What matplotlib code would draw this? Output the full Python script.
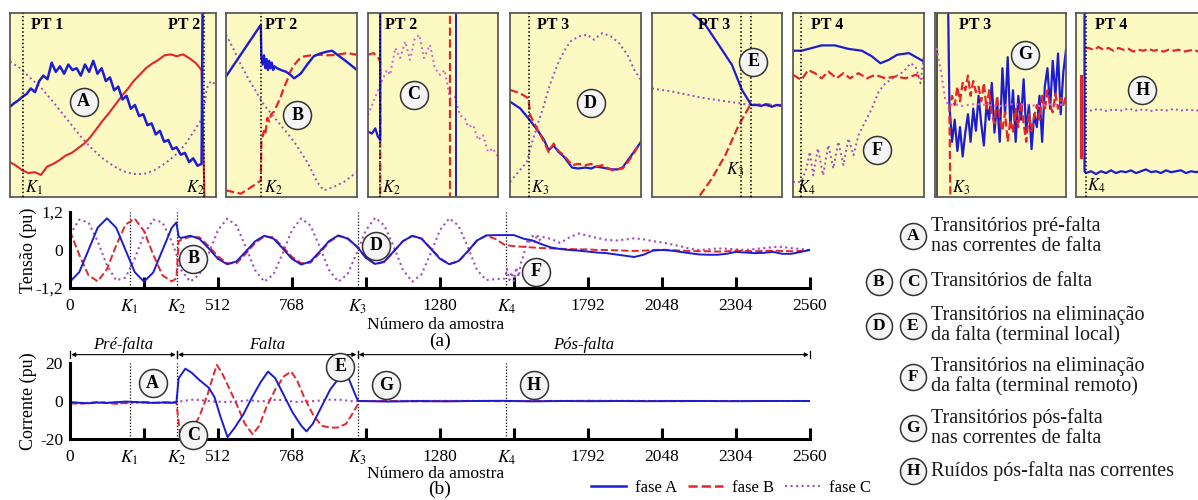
import numpy as np
import matplotlib
matplotlib.use('Agg')
import matplotlib.pyplot as plt
import matplotlib.transforms as mtransforms
from matplotlib.lines import Line2D

plt.rcParams['font.family'] = ['Liberation Serif', 'DejaVu Serif']
plt.rcParams['mathtext.fontset'] = 'stix'

W, H = 1198, 500
AZUL = '#1c1cd2'
VERMELHO = '#e4262c'
ROXO = '#a04cc4'
ROSA = '#d860d8'
AMARELO = '#fcf9c2'

#%% Dados: amostras de referencia
K = [206, 370, 995, 1510]

# (a) tensao
amostra_a = list(range(0, 353, 32)) + [368, 376] + list(range(384, 2561, 32))
tensao_A = [-1.0, -0.70, 0.0, 0.71, 1.0, 0.70, 0.0, -0.70, -1.0, -0.71, 0.0, 0.70,
            0.87, 0.42,
            0.38, 0.45, 0.35, 0.05, -0.28, -0.45, -0.36, -0.05, 0.27, 0.45,
            0.36, 0.05, -0.28, -0.46, -0.36, -0.05, 0.28, 0.46, 0.36, 0.12,
            -0.25, -0.44, -0.36, -0.04, 0.28, 0.45, 0.36, 0.04, -0.28, -0.45,
            -0.35, -0.04, 0.30, 0.46, 0.47, 0.47,
            0.47, 0.36, 0.30, 0.18, 0.08, 0.03, 0.0, -0.02, -0.05, -0.08,
            -0.10, -0.14, -0.18, -0.22, -0.15, -0.02, 0.0, -0.02, -0.06, -0.10,
            -0.14, -0.15, -0.15, -0.12, -0.06, -0.08, -0.10, -0.09, -0.06, -0.12,
            -0.12, -0.06, 0.0]
tensao_B = [0.60, -0.15, -0.80, -0.99, -0.60, 0.15, 0.80, 0.99, 0.60, -0.15, -0.80, -0.99,
            -0.90, 0.28,
            0.32, 0.42, 0.40, 0.12, -0.20, -0.42, -0.42, -0.12, 0.22, 0.43,
            0.40, 0.10, -0.22, -0.42, -0.40, -0.10, 0.25, 0.44, 0.38, 0.10,
            -0.25, -0.45, -0.38, -0.05, 0.28, 0.44, 0.36, 0.06, -0.26, -0.44,
            -0.36, -0.06, 0.30, 0.45, 0.35, 0.16,
            0.12, 0.10, 0.08, 0.06, 0.05, 0.04, 0.03, 0.02, 0.02, 0.0,
            0.0, -0.01, -0.02, -0.03, -0.02, 0.0, 0.01, 0.0, -0.02, -0.03,
            -0.04, -0.04, -0.05, -0.04, -0.02, -0.03, -0.04, -0.03, -0.02, -0.03,
            -0.04, -0.03, 0.0]
amostra_c = (list(range(0, 353, 32)) + [368, 376] + list(range(384, 1505, 32))
             + list(range(1512, 1625, 8)) + list(range(1632, 2561, 32)))
tensao_C = [0.49, 0.96, 0.87, 0.27, -0.49, -0.96, -0.87, -0.27, 0.49, 0.96, 0.87, 0.27,
            -0.12, -0.45,
            -0.63, -1.0, -0.77, -0.10, 0.63, 0.99, 0.77, 0.10,
            -0.63, -1.0, -0.77, -0.10, 0.63, 1.0, 0.77, 0.10,
            -0.63, -1.0, -0.77, -0.10, 0.63, 1.02, 0.77, 0.10,
            -0.63, -1.0, -0.77, -0.10, 0.63, 1.0, 0.77, 0.10,
            -0.63, -0.95, -0.92, -0.90,
            -0.60, -0.95, -0.70, -0.98, -0.55, -0.85, -0.40, -0.20, 0.10, 0.35,
            0.20, 0.45, 0.25, 0.50, 0.30,
            0.42, 0.35, 0.22, 0.40, 0.52, 0.45, 0.38, 0.32, 0.30, 0.33,
            0.37, 0.34, 0.28, 0.24, 0.18, 0.12, 0.04, 0.0, 0.02, 0.05,
            0.04, 0.02, 0.0, 0.03, 0.06, 0.09, 0.10, 0.06, 0.03, 0.0]

# (b) corrente
pos_falta = list(range(1100, 2501, 100)) + [2560]
amostra_iA = list(range(0, 353, 32)) + [368, 376, 399, 420, 448, 480, 500, 520, 545, 570, 600,
                                         630, 660, 685, 710, 740, 770, 800, 818, 840, 870,
                                         900, 925, 950, 965, 985, 995, 1000] + pos_falta
corrente_A = [-0.5, -1.0, -1.2, -0.8, -1.0, -0.6, -0.3, -0.5, -0.8, -1.0, -0.8, -1.0, -0.8,
              12, 17, 15, 11, 7, 2, -8, -19, -14, -7,
              2, 10, 15.5, 12, 3, -6, -13, -16, -12, -3,
              6, 11, 12, 11.5, 4, 0.5, 0,
              -0.3, 0, -0.2, 0, 0.1, -0.2, 0, -0.1, 0, -0.1, 0, 0, -0.1, 0, 0, 0]
amostra_iB = list(range(0, 353, 32)) + [368, 380, 399, 420, 448, 475, 495, 508, 525, 550, 580,
                                         605, 632, 655, 680, 710, 740, 765, 785, 810, 840,
                                         870, 900, 925, 955, 980, 995, 1005] + pos_falta
corrente_B = [-1.2, -1.5, -1.0, -0.5, -1.0, -1.5, -1.0, -0.6, -0.5, -1.0, -0.7, -0.6, -0.5,
              -17, -20, -16, -8, 3, 13, 19, 15, 7, -3,
              -12, -17.5, -13, -3, 6, 13, 15.5, 11, 2, -7,
              -13, -14, -14, -12, -6, -2, 0,
              0, -0.2, 0, 0, -0.1, 0, 0, 0.1, 0, 0, -0.1, 0, 0, 0, 0, 0]
amostra_iC = [0, 64, 128, 192, 256, 320, 370, 400, 430, 460, 500, 540, 580, 620, 660, 700,
              740, 780, 820, 860, 900, 940, 980, 1000, 1300, 1600, 1900, 2200, 2560]
corrente_C = [-0.8, -1.0, -0.8, -1.2, -0.8, -1.0, -0.5, 0.2, 0.8, 0.3, -0.3, -0.5, -0.2, 0.4,
              -0.3, 0.6, 0.5, -0.5, -0.3, 0.2, 0.7, 0.6, -0.2, 0, 0.1, 0, 0.1, 0, 0]

# paineis de detalhe (coordenadas normalizadas de cada painel)
p1_azul = [0.49, 0.51, 0.525, 0.545, 0.56, 0.59, 0.57, 0.63, 0.66, 0.64, 0.73, 0.68, 0.71, 0.67,
           0.72, 0.69, 0.70, 0.66, 0.72, 0.68, 0.74, 0.67, 0.70, 0.63, 0.65, 0.58, 0.60, 0.53,
           0.55, 0.48, 0.50, 0.44, 0.45, 0.39, 0.40, 0.34, 0.36, 0.30, 0.31, 0.26, 0.27, 0.23,
           0.24, 0.19, 0.21, 0.17, 0.18]
p1_vermelho = [0.19, 0.17, 0.145, 0.13, 0.135, 0.12, 0.165, 0.18, 0.20, 0.225, 0.24, 0.265,
               0.29, 0.325, 0.37, 0.415, 0.455, 0.50, 0.545, 0.585, 0.63, 0.665, 0.70, 0.725,
               0.745, 0.77, 0.775, 0.765, 0.775, 0.755, 0.73, 0.69]
p1_roxo_x = [0, 0.05, 0.10, 0.15, 0.20, 0.25, 0.30, 0.35, 0.40, 0.45, 0.50, 0.55, 0.60, 0.65,
             0.70, 0.75, 0.80, 0.85, 0.90, 0.935, 0.955, 0.975, 1.0]
p1_roxo = [0.736, 0.70, 0.645, 0.595, 0.53, 0.46, 0.39, 0.32, 0.26, 0.21, 0.17, 0.14, 0.125,
           0.125, 0.145, 0.18, 0.225, 0.285, 0.37, 0.43, 0.59, 0.63, 0.61]

p2_azul_x = [0, 0.266, 0.27, 0.28, 0.29, 0.30, 0.31, 0.32, 0.33, 0.34, 0.35, 0.36, 0.37, 0.39,
             0.42, 0.46, 0.49, 0.52, 0.57, 0.62, 0.67, 0.72, 0.77, 0.81, 0.85, 0.92, 1.0]
p2_azul = [0.655, 0.936, 0.76, 0.72, 0.77, 0.70, 0.75, 0.69, 0.74, 0.70, 0.73, 0.69, 0.71, 0.70,
           0.69, 0.68, 0.665, 0.645, 0.67, 0.72, 0.765, 0.78, 0.79, 0.795, 0.773, 0.736, 0.69]
p2_vermelho_x = [0, 0.114, 0.215, 0.266, 0.27, 0.28, 0.29, 0.30, 0.316, 0.33, 0.345, 0.367,
                 0.39, 0.418, 0.44, 0.468, 0.49, 0.52, 0.56, 0.595, 0.65, 0.72, 0.78, 0.848,
                 0.924, 1.0]
p2_vermelho = [0.036, 0.018, 0.064, 0.09, 0.30, 0.33, 0.36, 0.34, 0.43, 0.41, 0.45, 0.464, 0.50,
               0.545, 0.59, 0.636, 0.68, 0.718, 0.75, 0.764, 0.77, 0.773, 0.77, 0.773, 0.782,
               0.773]
p2_roxo_x = [0, 0.06, 0.114, 0.165, 0.215, 0.29, 0.35, 0.418, 0.52, 0.62, 0.696, 0.747, 0.823,
             0.9, 1.0]
p2_roxo = [0.882, 0.80, 0.718, 0.65, 0.59, 0.50, 0.45, 0.39, 0.30, 0.19, 0.082, 0.036, 0.055,
           0.082, 0.136]

p3_azul_x = [0, 0.03, 0.056, 0.075, 0.094, 0.094]
p3_azul = [0.355, 0.345, 0.373, 0.33, 0.31, 1.05]
p3_vermelho_x = [0, 0.043, 0.08, 0.094, 0.094]
p3_vermelho = [0.773, 0.782, 0.755, 0.736, -0.05]
p3_roxo_x = [0, 0.094, 0.145, 0.17, 0.21, 0.247, 0.286, 0.324, 0.357, 0.395, 0.43, 0.477, 0.515,
             0.553, 0.59, 0.63, 0.668, 0.707, 0.745, 0.77, 0.81, 0.847, 0.885, 0.923, 0.96, 1.0]
p3_roxo = [0.445, 0.61, 0.69, 0.664, 0.81, 0.755, 0.845, 0.745, 0.855, 0.882, 0.755, 0.827,
           0.70, 0.664, 0.69, 0.536, 0.545, 0.445, 0.427, 0.382, 0.39, 0.31, 0.336, 0.245,
           0.264, 0.218]

p4_vermelho_x = [0, 0.077, 0.141, 0.154, 0.218, 0.26, 0.295, 0.333, 0.37, 0.41, 0.474, 0.52,
                 0.577, 0.62, 0.654, 0.705, 0.74, 0.782, 0.82, 0.859, 0.9, 0.936, 1.0]
p4_vermelho = [0.582, 0.564, 0.536, 0.445, 0.355, 0.30, 0.245, 0.29, 0.25, 0.227, 0.173, 0.18,
               0.173, 0.18, 0.164, 0.173, 0.16, 0.145, 0.15, 0.155, 0.19, 0.227, 0.30]
p4_azul_x = [0, 0.077, 0.141, 0.218, 0.26, 0.295, 0.333, 0.37, 0.41, 0.474, 0.52, 0.577, 0.62,
             0.654, 0.705, 0.74, 0.782, 0.82, 0.859, 0.9, 0.936, 1.0]
p4_azul = [0.518, 0.482, 0.427, 0.355, 0.31, 0.255, 0.28, 0.245, 0.22, 0.16, 0.155, 0.16, 0.155,
           0.165, 0.16, 0.155, 0.15, 0.15, 0.16, 0.2, 0.235, 0.30]
p4_roxo_x = [0, 0.064, 0.128, 0.17, 0.218, 0.26, 0.295, 0.33, 0.372, 0.42, 0.46, 0.526, 0.59,
             0.64, 0.705, 0.77, 0.833, 0.897, 0.95, 1.0]
p4_roxo = [0.082, 0.136, 0.19, 0.30, 0.409, 0.50, 0.59, 0.66, 0.736, 0.80, 0.845, 0.873, 0.882,
           0.855, 0.891, 0.873, 0.836, 0.773, 0.69, 0.636]

p5_azul_x = [0.29, 0.32, 0.41, 0.513, 0.615, 0.692, 0.764, 0.80, 0.84, 0.88, 0.92, 0.96, 1.0]
p5_azul = [1.05, 0.99, 0.936, 0.827, 0.718, 0.582, 0.50, 0.50, 0.495, 0.505, 0.49, 0.50, 0.495]
p5_roxo_x = [0, 0.154, 0.41, 0.667, 0.756, 0.80, 0.85, 0.9, 0.95, 1.0]
p5_roxo = [0.59, 0.573, 0.536, 0.51, 0.50, 0.505, 0.495, 0.505, 0.495, 0.50]
p5_vermelho_x = [0.33, 0.36, 0.46, 0.564, 0.667, 0.756, 0.8, 0.85, 0.9, 0.95, 1.0]
p5_vermelho = [-0.05, 0.0, 0.1, 0.227, 0.39, 0.50, 0.50, 0.505, 0.495, 0.50, 0.50]

p6_azul_x = [0, 0.064, 0.141, 0.218, 0.32, 0.423, 0.526, 0.603, 0.667, 0.73, 0.795, 0.885, 1.0]
p6_azul = [0.795, 0.795, 0.809, 0.824, 0.824, 0.805, 0.795, 0.764, 0.727, 0.745, 0.773, 0.782,
           0.736]
p6_vermelho_x = [0, 0.064, 0.115, 0.167, 0.218, 0.27, 0.333, 0.385, 0.436, 0.5, 0.564, 0.628,
                 0.705, 0.782, 0.859, 0.936, 1.0]
p6_vermelho = [0.664, 0.636, 0.69, 0.673, 0.645, 0.682, 0.645, 0.673, 0.645, 0.673, 0.645, 0.664,
               0.645, 0.655, 0.645, 0.664, 0.645]
p6_roxo_x = [0, 0.064, 0.103, 0.128, 0.154, 0.19, 0.23, 0.27, 0.308, 0.346, 0.385, 0.423, 0.462,
             0.5, 0.551, 0.603, 0.654, 0.705, 0.782, 0.846, 0.897, 0.936, 0.974, 1.0]
p6_roxo = [0.082, 0.082, 0.155, 0.245, 0.118, 0.264, 0.118, 0.282, 0.155, 0.30, 0.173, 0.318,
           0.227, 0.336, 0.409, 0.482, 0.573, 0.618, 0.655, 0.682, 0.727, 0.709, 0.618, 0.782]

p7_azul = [0.50, 0.30, 0.42, 0.25, 0.38, 0.22, 0.35, 0.45, 0.30, 0.48, 0.36, 0.55, 0.40, 0.28,
           0.50, 0.42, 0.62, 0.35, 0.52, 0.30, 0.70, 0.45, 0.76, 0.38, 0.58, 0.30, 0.55, 0.42,
           0.64, 0.35, 0.50, 0.26, 0.45, 0.38, 0.55, 0.30, 0.60, 0.70, 0.48, 0.74, 0.55, 0.78,
           0.45, 0.68, 0.80]
p7_vermelho = [0.48, 0.55, 0.50, 0.60, 0.52, 0.62, 0.58, 0.66, 0.55, 0.63, 0.57, 0.60, 0.52,
               0.62, 0.48, 0.58, 0.45, 0.40, 0.55, 0.42, 0.36, 0.46, 0.30, 0.42, 0.35, 0.48,
               0.38, 0.52, 0.40, 0.30, 0.45, 0.36, 0.44, 0.50, 0.42, 0.55, 0.47, 0.58, 0.50,
               0.46, 0.56, 0.48, 0.54, 0.50, 0.55]
p7_roxo_x = [0.013, 0.05, 0.077, 0.1, 0.15, 0.2, 0.3, 0.4, 0.5, 0.6, 0.7, 0.8, 0.9, 1.0]
p7_roxo = [0.81, 0.664, 0.536, 0.50, 0.505, 0.495, 0.505, 0.5, 0.495, 0.505, 0.50, 0.495, 0.505,
           0.5]

p8_azul_x = [0.068, 0.068, 0.08, 0.12, 0.16, 0.2, 0.24, 0.28, 0.32, 0.36, 0.4, 0.44, 0.48, 0.52,
             0.56, 0.6, 0.64, 0.68, 0.72, 0.76, 0.8, 0.84, 0.88, 0.92, 0.96, 1.0]
p8_azul = [1.05, 0.14, 0.13, 0.14, 0.125, 0.14, 0.13, 0.145, 0.13, 0.14, 0.135, 0.145, 0.13,
           0.14, 0.15, 0.135, 0.14, 0.13, 0.145, 0.135, 0.14, 0.145, 0.13, 0.14, 0.135, 0.14]
p8_vermelho_x = [0.07, 0.1, 0.14, 0.18, 0.22, 0.26, 0.3, 0.34, 0.38, 0.42, 0.46, 0.5, 0.54, 0.58,
                 0.62, 0.66, 0.7, 0.74, 0.78, 0.82, 0.86, 0.9, 0.94, 0.98, 1.0]
p8_vermelho = [0.81, 0.81, 0.80, 0.815, 0.80, 0.81, 0.795, 0.81, 0.80, 0.805, 0.79, 0.80, 0.795,
               0.805, 0.795, 0.80, 0.79, 0.80, 0.795, 0.80, 0.79, 0.795, 0.80, 0.79, 0.795]
p8_roxo_x = [0.07, 0.12, 0.18, 0.24, 0.3, 0.36, 0.42, 0.48, 0.54, 0.6, 0.66, 0.72, 0.78, 0.84,
             0.9, 0.96, 1.0]
p8_roxo = [0.473, 0.47, 0.478, 0.468, 0.475, 0.47, 0.48, 0.47, 0.476, 0.468, 0.475, 0.47, 0.478,
           0.47, 0.474, 0.47, 0.472]

legenda_letras = [['A'], ['B', 'C'], ['D', 'E'], ['F'], ['G'], ['H']]
legenda_textos = ['Transitórios pré-falta\nnas correntes de falta',
                  'Transitórios de falta',
                  'Transitórios na eliminação\nda falta (terminal local)',
                  'Transitórios na eliminação\nda falta (terminal remoto)',
                  'Transitórios pós-falta\nnas correntes de falta',
                  'Ruídos pós-falta nas correntes']


#%% Funcoes auxiliares
def caixa(x0, y0, x1, y1):
    return [x0 / W, 1 - y1 / H, (x1 - x0) / W, (y1 - y0) / H]


def circulo(ax, x, y, letra, diam=28, fs=13, **kw):
    ax.plot([x], [y], marker='o', ms=diam * 0.72, mfc='#f4f4f4', mec='#333333', mew=1.1,
            ls='none', clip_on=False, zorder=8, **kw)
    ax.text(x, y, letra, ha='center', va='center', fontsize=fs, fontweight='bold',
            zorder=9, **kw)


def painel(x0, x1):
    ax = fig.add_axes(caixa(x0, 13, x1, 197))
    ax.set_facecolor(AMARELO)
    ax.set_xlim(0, 1)
    ax.set_ylim(0, 1)
    ax.set_xticks([])
    ax.set_yticks([])
    for s in ax.spines.values():
        s.set_color('#5a5a5a')
        s.set_linewidth(1.3)
    return ax


def rotulo_pt(ax, x, texto, ha='left'):
    ax.text(x, 0.935, texto, fontsize=11.5, fontweight='bold', ha=ha, va='center', zorder=7)


def rotulo_k(ax, x, y, k):
    ax.text(x, y, '$K_%d$' % k, fontsize=12, ha='left', va='bottom', zorder=7)


def linha_k(ax, x):
    ax.axvline(x, color='k', ls=(0, (1, 1.5)), lw=1.1, zorder=3)


def eixo_sinal(y0, y1, lim, rotulos_y):
    ax = fig.add_axes(caixa(70, y0, 810, y1))
    ax.patch.set_alpha(0)
    ax.set_xlim(0, 2560)
    ax.set_ylim(-lim, lim)
    ax.spines[['top', 'right']].set_visible(False)
    ax.spines['left'].set_linewidth(2.2)
    ax.spines['bottom'].set_linewidth(2.2)
    ax.set_xticks(range(256, 2561, 256))
    ax.set_xticklabels(['', '512', '768', '', '1280', '', '1792', '2048', '2304', '2560'])
    ax.set_xticks([0] + K, minor=True)
    ax.set_xticklabels(['0', '$K_1$', '$K_2$', '$K_3$', '$K_4$'], minor=True)
    ax.tick_params(axis='x', which='major', direction='in', length=8, width=2.2, pad=7,
                   labelsize=12.5)
    ax.tick_params(axis='x', which='minor', length=0, pad=7, labelsize=12.5)
    ax.set_yticks([-lim, 0, lim])
    ax.set_yticklabels(rotulos_y)
    ax.set_yticks([lim], minor=True)
    ax.tick_params(axis='y', which='major', length=0, pad=5, labelsize=12.5)
    ax.tick_params(axis='y', which='minor', direction='in', length=7, width=2.2)
    for k in K:
        ax.axvline(k, color='k', ls=(0, (1, 1.5)), lw=0.9, zorder=1)
    return ax


#%% Figura
fig = plt.figure(figsize=(W / 100, H / 100), dpi=100)

# painel 1
ax = painel(10, 216)
linha_k(ax, 0.065)
linha_k(ax, 0.94)
ax.plot(p1_roxo_x, p1_roxo, color=ROXO, ls=':', lw=1.4)
ax.plot(np.r_[np.linspace(0, 0.93, 32), 0.945], np.r_[p1_vermelho, -0.05], color=VERMELHO, lw=1.5)
ax.plot(np.r_[np.linspace(0, 0.93, 47), 0.935], np.r_[p1_azul, 1.05], color=AZUL, lw=1.8)
rotulo_pt(ax, 0.10, 'PT 1')
rotulo_pt(ax, 0.925, 'PT 2', ha='right')
rotulo_k(ax, 0.075, 0.0, 1)
rotulo_k(ax, 0.855, 0.0, 2)
circulo(ax, 0.358, 0.518, 'A')

# painel 2
ax = painel(226, 357)
linha_k(ax, 0.27)
ax.plot(p2_roxo_x, p2_roxo, color=ROXO, ls=':', lw=1.4)
ax.plot(p2_vermelho_x, p2_vermelho, color=VERMELHO, ls='--', lw=1.6)
ax.plot(p2_azul_x, p2_azul, color=AZUL, lw=1.7)
rotulo_pt(ax, 0.30, 'PT 2')
rotulo_k(ax, 0.29, 0.0, 2)
circulo(ax, 0.544, 0.445, 'B')

# painel 3
ax = painel(368, 498)
linha_k(ax, 0.094)
ax.plot(p3_roxo_x, p3_roxo, color=ROSA, ls=':', lw=1.4)
ax.plot(p3_vermelho_x, p3_vermelho, color=VERMELHO, ls='--', lw=1.6)
ax.plot(p3_azul_x, p3_azul, color=AZUL, lw=1.6)
ax.plot([0.63, 0.63], [1.05, -0.05], color=VERMELHO, ls='--', lw=1.6)
ax.plot([0.68, 0.68], [1.05, -0.05], color=AZUL, lw=1.4)
rotulo_pt(ax, 0.13, 'PT 2')
rotulo_k(ax, 0.11, 0.0, 2)
circulo(ax, 0.35, 0.555, 'C')

# painel 4
ax = painel(510, 641)
linha_k(ax, 0.146)
ax.plot(p4_roxo_x, p4_roxo, color=ROXO, ls=':', lw=1.4)
ax.plot(p4_azul_x, p4_azul, color=AZUL, lw=1.6)
ax.plot(p4_vermelho_x, p4_vermelho, color=VERMELHO, ls='--', lw=1.6)
rotulo_pt(ax, 0.205, 'PT 3')
rotulo_k(ax, 0.16, 0.0, 3)
circulo(ax, 0.615, 0.51, 'D')

# painel 5
ax = painel(652, 782)
linha_k(ax, 0.687)
linha_k(ax, 0.764)
ax.plot(p5_roxo_x, p5_roxo, color=ROXO, ls=':', lw=1.4)
ax.plot(p5_vermelho_x, p5_vermelho, color=VERMELHO, ls='--', lw=1.6)
ax.plot(p5_azul_x, p5_azul, color=AZUL, lw=1.6)
rotulo_pt(ax, 0.35, 'PT 3')
rotulo_k(ax, 0.57, 0.1, 3)
circulo(ax, 0.78, 0.736, 'E')

# painel 6
ax = painel(793, 924)
linha_k(ax, 0.064)
ax.plot(p6_roxo_x, p6_roxo, color=ROXO, ls=':', lw=1.4)
ax.plot(p6_vermelho_x, p6_vermelho, color=VERMELHO, ls='--', lw=1.6)
ax.plot(p6_azul_x, p6_azul, color=AZUL, lw=1.6)
rotulo_pt(ax, 0.14, 'PT 4')
rotulo_k(ax, 0.03, 0.0, 4)
circulo(ax, 0.641, 0.255, 'F')

# painel 7
ax = painel(935, 1066)
ax.axvline(0.013, color='#333333', lw=1.2)
grade7 = np.linspace(0.11, 1.0, 45)
ax.plot(p7_roxo_x, p7_roxo, color=ROSA, ls=':', lw=1.5, zorder=4)
ax.plot(np.r_[0.1, grade7], np.r_[1.05, p7_azul], color=AZUL, lw=1.6)
ax.plot(np.r_[0.118, grade7], np.r_[-0.05, p7_vermelho], color=VERMELHO, ls='--', lw=1.6)
rotulo_pt(ax, 0.18, 'PT 3')
rotulo_k(ax, 0.13, 0.0, 3)
circulo(ax, 0.69, 0.773, 'G')

# painel 8
ax = painel(1076, 1201)
linha_k(ax, 0.078)
ax.plot([0.04, 0.04], [0.22, 0.66], color=VERMELHO, lw=2.2)
ax.plot(p8_roxo_x, p8_roxo, color=ROXO, ls=':', lw=1.4)
ax.plot(p8_vermelho_x, p8_vermelho, color=VERMELHO, ls='--', lw=1.6)
ax.plot(p8_azul_x, p8_azul, color=AZUL, lw=1.6)
rotulo_pt(ax, 0.15, 'PT 4')
rotulo_k(ax, 0.09, 0.01, 4)
circulo(ax, 0.53, 0.58, 'H')

# (a) tensao
ax_a = eixo_sinal(212, 288, 1.2, ['-1,2', '0', '1,2'])
ax_a.plot(amostra_c, tensao_C, color=ROXO, ls=':', lw=1.5)
ax_a.plot(amostra_a, tensao_B, color=VERMELHO, ls='--', lw=1.4)
ax_a.plot(amostra_a, tensao_A, color=AZUL, lw=1.4)
circulo(ax_a, 426, -0.28, 'B')
circulo(ax_a, 1058, 0.14, 'D')
circulo(ax_a, 1611, -0.68, 'F')

# (b) corrente
ax_b = eixo_sinal(363, 439, 20, ['-20', '0', '20'])
ax_b.plot(amostra_iC, corrente_C, color=ROXO, ls=':', lw=1.5)
ax_b.plot(amostra_iB, corrente_B, color=VERMELHO, ls='--', lw=1.4)
ax_b.plot(amostra_iA, corrente_A, color=AZUL, lw=1.4)
circulo(ax_b, 286, 9.3, 'A')
circulo(ax_b, 426, -17.9, 'C')
circulo(ax_b, 935, 18.0, 'E')
circulo(ax_b, 1092, 8.4, 'G')
circulo(ax_b, 1604, 8.4, 'H')

trans = mtransforms.blended_transform_factory(ax_b.transData, ax_b.transAxes)
periodos = [(0, K[1], 'Pré-falta'), (K[1], K[2], 'Falta'), (K[2], 2560, 'Pós-falta')]
for ini, fim, nome in periodos:
    ax_b.annotate('', xy=(ini + 4, 1.11), xytext=(fim - 4, 1.11), xycoords=trans,
                  textcoords=trans,
                  arrowprops=dict(arrowstyle='<|-|>', color='k', lw=0.8, mutation_scale=6,
                                  shrinkA=0, shrinkB=0))
    ax_b.plot([ini, ini], [1.06, 1.16], transform=trans, color='k', lw=0.9, clip_on=False)
    ax_b.plot([fim, fim], [1.06, 1.16], transform=trans, color='k', lw=0.9, clip_on=False)
    ax_b.text((ini + fim) / 2, 1.24, nome, transform=trans, ha='center', va='center',
              style='italic', fontsize=12)

# rotulos dos eixos
fig.text(28 / W, 1 - 250 / H, 'Tensão (pu)', rotation=90, ha='center', va='center', fontsize=13)
fig.text(28 / W, 1 - 401 / H, 'Corrente (pu)', rotation=90, ha='center', va='center', fontsize=13)
fig.text(436 / W, 1 - 325 / H, 'Número da amostra', ha='center', va='center', fontsize=12.5)
fig.text(440 / W, 1 - 341 / H, '(a)', ha='center', va='center', fontsize=14)
fig.text(436 / W, 1 - 474 / H, 'Número da amostra', ha='center', va='center', fontsize=12.5)
fig.text(440 / W, 1 - 489 / H, '(b)', ha='center', va='center', fontsize=14)

# legenda das fases
alcas = [Line2D([], [], color=AZUL, lw=1.8),
         Line2D([], [], color=VERMELHO, lw=1.8, ls='--'),
         Line2D([], [], color=ROXO, lw=1.5, ls=':')]
fig.legend(alcas, ['fase A', 'fase B', 'fase C'], loc='center',
           bbox_to_anchor=(731 / W, 1 - 488 / H), ncol=3, frameon=False, fontsize=12,
           handlelength=2.1, handletextpad=0.5, columnspacing=0.7)

# legenda das letras
ax_leg = fig.add_axes([0, 0, 1, 1])
ax_leg.set_xlim(0, W)
ax_leg.set_ylim(H, 0)
ax_leg.axis('off')
centros_y = [236, 282, 326, 377, 428, 471]
for letras, texto, yc in zip(legenda_letras, legenda_textos, centros_y):
    xs = [913] if len(letras) == 1 else [879, 913]
    for xc, letra in zip(xs, letras):
        circulo(ax_leg, xc, yc, letra, diam=26, fs=12.5)
    ax_leg.text(931, yc, texto, ha='left', va='center', fontsize=14.5, linespacing=1.08,
                color='#1a1a1a')

fig.savefig('out.png', dpi=100)
